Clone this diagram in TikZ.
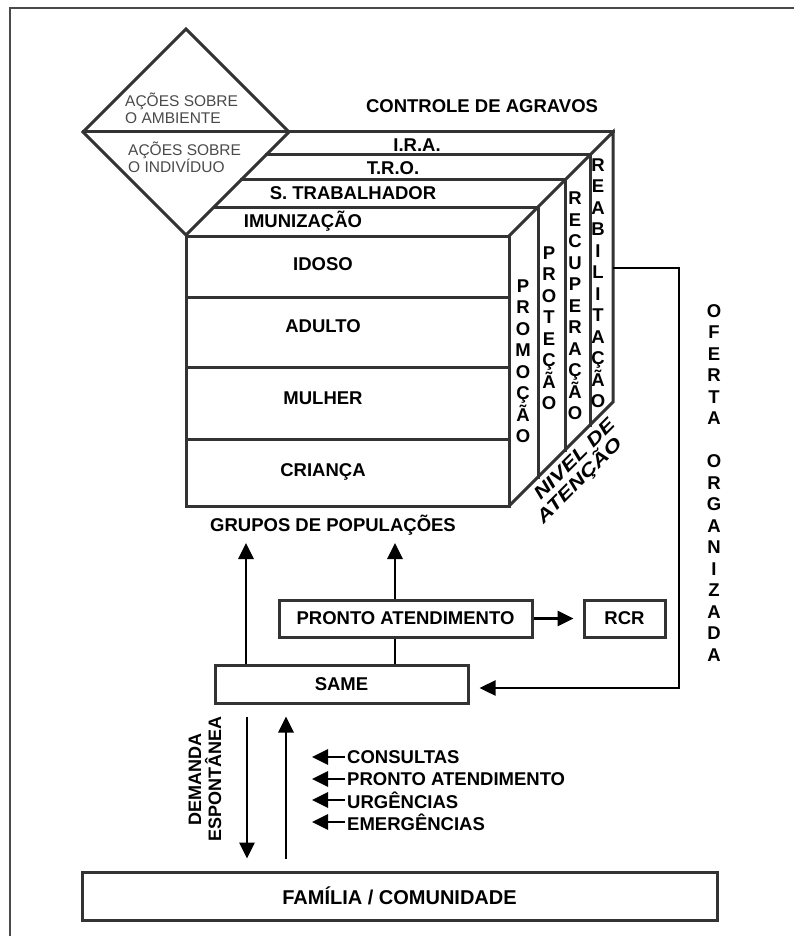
\documentclass[tikz,border=0pt]{standalone}
\usepackage{fontspec}
\setmainfont{Liberation Sans}
\newfontfamily\widesans[FakeStretch=1.28]{Liberation Sans}
\usetikzlibrary{arrows.meta,calc}
\definecolor{ink}{HTML}{333333}
\definecolor{soft}{HTML}{4A4A4A}

\begin{document}
\begin{tikzpicture}[x=1pt,y=-1pt,
  edge/.style={draw=ink,line width=3pt,line join=miter,line cap=rect},
  lbl/.style={font=\fontsize{18.5}{20}\selectfont\bfseries,inner sep=0pt},
  thin/.style={font=\fontsize{15.5}{17.5}\selectfont,text=soft,align=left,inner sep=0pt},
  vstack/.style={font=\fontsize{18.5}{21.5}\selectfont\bfseries,align=center,inner sep=0pt},
  box/.style={draw=ink,line width=3pt,inner sep=0pt,font=\fontsize{18.5}{20}\selectfont\bfseries},
  arr/.style={draw=black,line width=2.8pt,-{Triangle[length=16pt,width=15pt]}},
  link/.style={draw=black,line width=2.8pt},
  slant/.style={font=\widesans\fontsize{18}{20}\selectfont\bfseries\itshape,inner sep=0pt,rotate=45},
]
\useasboundingbox (0,0) rectangle (794,936);

% page frame (top and left rules)
\draw[soft,line width=1.5pt] (10,936) -- (10,8) -- (794,8);

% diamond: actions on environment / individual
\coordinate (dT) at (186,29);
\coordinate (dL) at (83,132);
\coordinate (dR) at (289,132);
\coordinate (dB) at (186,235);
\draw[edge] (dT) -- (dR) -- (dB) -- (dL) -- cycle;
\draw[edge] (dL) -- (dR);
\node[thin,anchor=west] (amb) at (125,108.5) {AÇÕES SOBRE\\O AMBIENTE};
\node[thin,anchor=west] (ind) at (128,157.5) {AÇÕES SOBRE\\O INDIVÍDUO};

% block: front face (population groups)
\draw[edge] (186,236) rectangle (509,506);
\foreach \yy in {297,367,439} \draw[edge] (186,\yy) -- (509,\yy);
% top face slabs (controle de agravos)
\foreach \d in {29,56,81,104} \draw[edge] ({185+\d},{236-\d}) -- ({509+\d},{236-\d});
% side face columns (nivel de atencao)
\draw[edge] (509,236) -- (613,132) -- (613,402) -- (509,506);
\foreach \d in {29,56,81} \draw[edge] ({509+\d},{236-\d}) -- ({509+\d},{506-\d});

\node[lbl] (ctrl) at (482,106) {CONTROLE DE AGRAVOS};
\node[lbl] (ira) at (417,145) {I.R.A.};
\node[lbl] (tro) at (393,168) {T.R.O.};
\node[lbl] (strab) at (353,193) {S. TRABALHADOR};
\node[lbl] (imun) at (303,221) {IMUNIZAÇÃO};

\node[lbl] (idoso) at (323,264) {IDOSO};
\node[lbl] (adulto) at (323,326) {ADULTO};
\node[lbl] (mulher) at (323,398) {MULHER};
\node[lbl] (crianca) at (323,472) {CRIANÇA};

\node[vstack] (promo) at (523,361) {P\\R\\O\\M\\O\\Ç\\Ã\\O};
\node[vstack] (prote) at (549,328) {P\\R\\O\\T\\E\\Ç\\Ã\\O};
\node[vstack] (recup) at (575,306) {R\\E\\C\\U\\P\\E\\R\\A\\Ç\\Ã\\O};
\node[vstack] (reab) at (598,283) {R\\E\\A\\B\\I\\L\\I\\T\\A\\Ç\\Ã\\O};

\node[slant] (nivel) at (574,459) {NIVEL DE};
\node[slant] (atenc) at (579,480) {ATENÇÃO};

\node[lbl] (grupos) at (333,525) {GRUPOS DE POPULAÇÕES};

% service boxes
\node[box,minimum width=253pt,minimum height=37pt] (pa) at (405.5,618.5) {PRONTO ATENDIMENTO};
\node[box,minimum width=81pt,minimum height=37pt] (rcr) at (624.5,618.5) {RCR};
\node[box,minimum width=253pt,minimum height=38pt] (same) at (341.5,684) {SAME};
\node[box,minimum width=635pt,minimum height=48pt,font=\fontsize{20}{22}\selectfont\bfseries]
  (fam) at (399.5,896) {FAMÍLIA / COMUNIDADE};

% flows up to the population groups
\coordinate (g1) at (246,543);
\coordinate (g2) at (395,543);
\draw[arr] (same.north -| g1) -- (g1);
\draw[arr] (pa.north -| g2) -- (g2);
\draw[link] (pa.south -| g2) -- (same.north -| g2);
\draw[arr,shorten >=9pt] (pa.east) -- (rcr.west);

% organised offer back to SAME
\coordinate (o1) at (613,268);
\coordinate (o2) at (679,268);
\draw[arr,line width=2.4pt,shorten >=10pt] (o1) -- (o2) |- ($(same.east)+(0,4)$);
\node[vstack] (oferta) at (714,483) {O\\F\\E\\R\\T\\A\\[21.5pt]O\\R\\G\\A\\N\\I\\Z\\A\\D\\A};

% spontaneous demand between family and SAME
\coordinate (dnx) at (247,0);
\coordinate (upx) at (286,0);
\draw[arr,shorten <=12pt,shorten >=12pt] (same.south -| dnx) -- (fam.north -| dnx);
\draw[arr,shorten <=12pt,shorten >=12pt] (fam.north -| upx) -- (same.south -| upx);
\node[lbl,align=center,rotate=90,font=\fontsize{18}{20}\selectfont\bfseries] (dem) at (205,779) {DEMANDA\\ESPONTÂNEA};

\coordinate (lt) at (312,0);
\node[lbl,anchor=west] (c1) at (347,757) {CONSULTAS};
\node[lbl,anchor=west] (c2) at (347,779) {PRONTO ATENDIMENTO};
\node[lbl,anchor=west] (c3) at (347,800) {URGÊNCIAS};
\node[lbl,anchor=west] (c4) at (347,822) {EMERGÊNCIAS};
\foreach \c in {c1,c2,c3,c4} \draw[arr,shorten <=2pt] (\c.west) -- (\c.west -| lt);

\end{tikzpicture}
\end{document}
